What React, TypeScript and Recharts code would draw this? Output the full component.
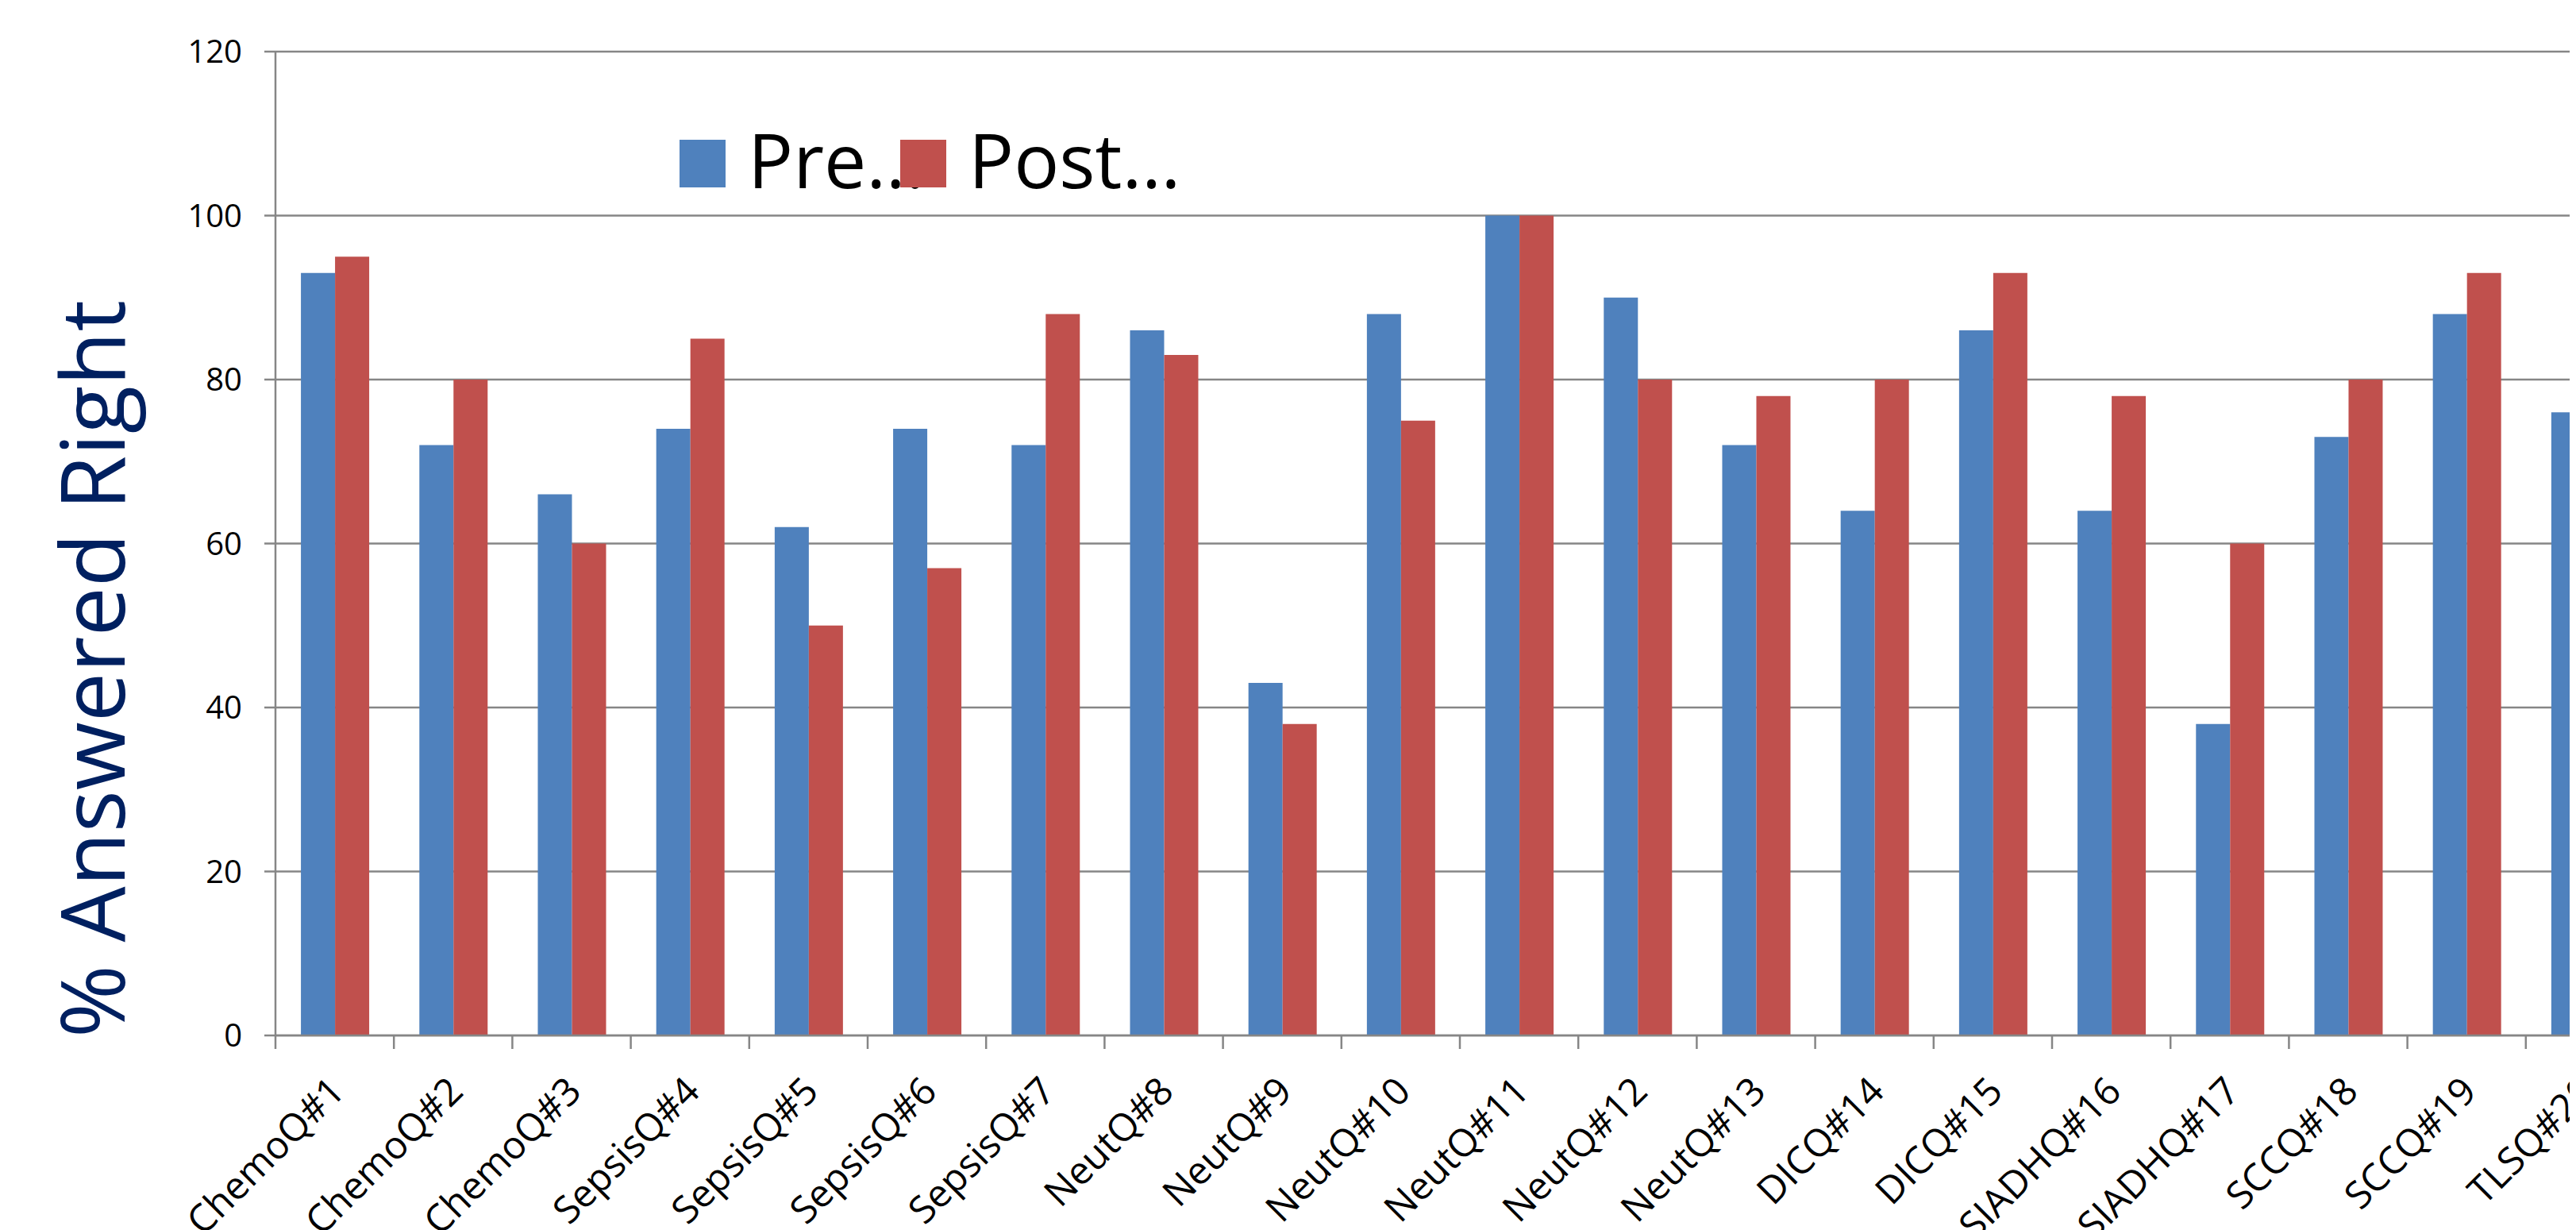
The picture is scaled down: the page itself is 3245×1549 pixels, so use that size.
import React from 'react';
import { BarChart, Bar, XAxis, YAxis, CartesianGrid, Legend } from 'recharts';

const categories = [
  'ChemoQ#1', 'ChemoQ#2', 'ChemoQ#3', 'SepsisQ#4', 'SepsisQ#5', 'SepsisQ#6', 'SepsisQ#7',
  'NeutQ#8', 'NeutQ#9', 'NeutQ#10', 'NeutQ#11', 'NeutQ#12', 'NeutQ#13', 'DICQ#14',
  'DICQ#15', 'SIADHQ#16', 'SIADHQ#17', 'SCCQ#18', 'SCCQ#19', 'TLSQ#20',
];
const preValues = [93, 72, 66, 74, 62, 74, 72, 86, 43, 88, 100, 90, 72, 64, 86, 64, 38, 73, 88, 76];
const postValues = [95, 80, 60, 85, 50, 57, 88, 83, 38, 75, 100, 80, 78, 80, 93, 78, 60, 80, 93, 84];
const yTicks = [0, 20, 40, 60, 80, 100, 120];
const seriesNames = ['Pre…', 'Post…'];
const yAxisTitle = '% Answered Right';

const data = categories.map((c, i) => ({ name: c, pre: preValues[i], post: postValues[i] }));

const FONT = '"Open Sans", "Noto Sans", sans-serif';
const AXIS = '#868686';
const BLUE = '#4F81BD';
const RED = '#C0504D';
const BAND = 149.2;

function XTick(props: any) {
  const { x, y, payload } = props;
  const half = payload && typeof payload.offset === 'number' ? payload.offset : BAND / 2;
  const tx = x + 15;
  const ty = y + 73;
  return (
    <g>
      <line x1={x - half} x2={x - half} y1={y} y2={y + 17} stroke={AXIS} strokeWidth={2.5} />
      <text
        x={tx}
        y={ty}
        transform={`rotate(-45 ${tx} ${ty})`}
        textAnchor="end"
        fontFamily={FONT}
        fontSize={48}
        fill="#000"
      >
        {payload.value}
      </text>
    </g>
  );
}

function YTitle(props: any) {
  const vb = props.viewBox || { x: 139, y: 57, width: 200, height: 1239 };
  const tx = vb.x + 10;
  const ty = vb.y + vb.height / 2 + 158;
  return (
    <text
      x={tx}
      y={ty}
      transform={`rotate(-90 ${tx} ${ty})`}
      textAnchor="middle"
      fontFamily={FONT}
      fontSize={111}
      fill="#002060"
    >
      {yAxisTitle}
    </text>
  );
}

function LegendContent(props: any) {
  const payload = [...(props.payload || [])].sort(
    (a: any, b: any) => seriesNames.indexOf(a.value) - seriesNames.indexOf(b.value)
  );
  return (
    <svg width={720} height={110} style={{ overflow: 'visible', display: 'block' }}>
      {payload.map((p: any, i: number) => (
        <text
          key={`t${i}`}
          x={i * 278 + 86}
          y={65}
          fontFamily={FONT}
          fontSize={95}
          fill="#000"
        >
          {p.value}
        </text>
      ))}
      {payload.map((p: any, i: number) => (
        <rect key={`r${i}`} x={i * 278} y={4} width={58} height={60} fill={p.color} />
      ))}
    </svg>
  );
}

export default function App() {
  const plotWidth = BAND * categories.length;
  const chartWidth = 339 + plotWidth + 10;
  return (
    <div style={{ width: 3237, height: 1541, overflow: 'hidden', background: '#fff' }}>
      <BarChart
        width={chartWidth}
        height={1541}
        data={data}
        margin={{ top: 57, right: 10, bottom: 45, left: 139 }}
        barCategoryGap="21.5%"
        barGap={0}
      >
        <CartesianGrid vertical={false} stroke={AXIS} strokeWidth={2.5} />
        <XAxis
          dataKey="name"
          height={200}
          interval={0}
          tickSize={0}
          tickMargin={0}
          tickLine={false}
          axisLine={{ stroke: AXIS, strokeWidth: 2.5 }}
          tick={<XTick />}
        />
        <YAxis
          width={200}
          domain={[0, 120]}
          ticks={yTicks}
          interval={0}
          tickSize={14}
          tickMargin={28}
          axisLine={{ stroke: AXIS, strokeWidth: 2.5 }}
          tickLine={{ stroke: AXIS, strokeWidth: 2.5 }}
          tick={{ fontFamily: FONT, fontSize: 40, fill: '#000' }}
          label={<YTitle />}
        />
        <Legend
          layout="horizontal"
          verticalAlign="middle"
          align="center"
          wrapperStyle={{ position: 'absolute', left: 848, top: 164, width: 720, height: 110 }}
          content={<LegendContent />}
        />
        <Bar dataKey="pre" name={seriesNames[0]} fill={BLUE} isAnimationActive={false} />
        <Bar dataKey="post" name={seriesNames[1]} fill={RED} isAnimationActive={false} />
      </BarChart>
    </div>
  );
}
